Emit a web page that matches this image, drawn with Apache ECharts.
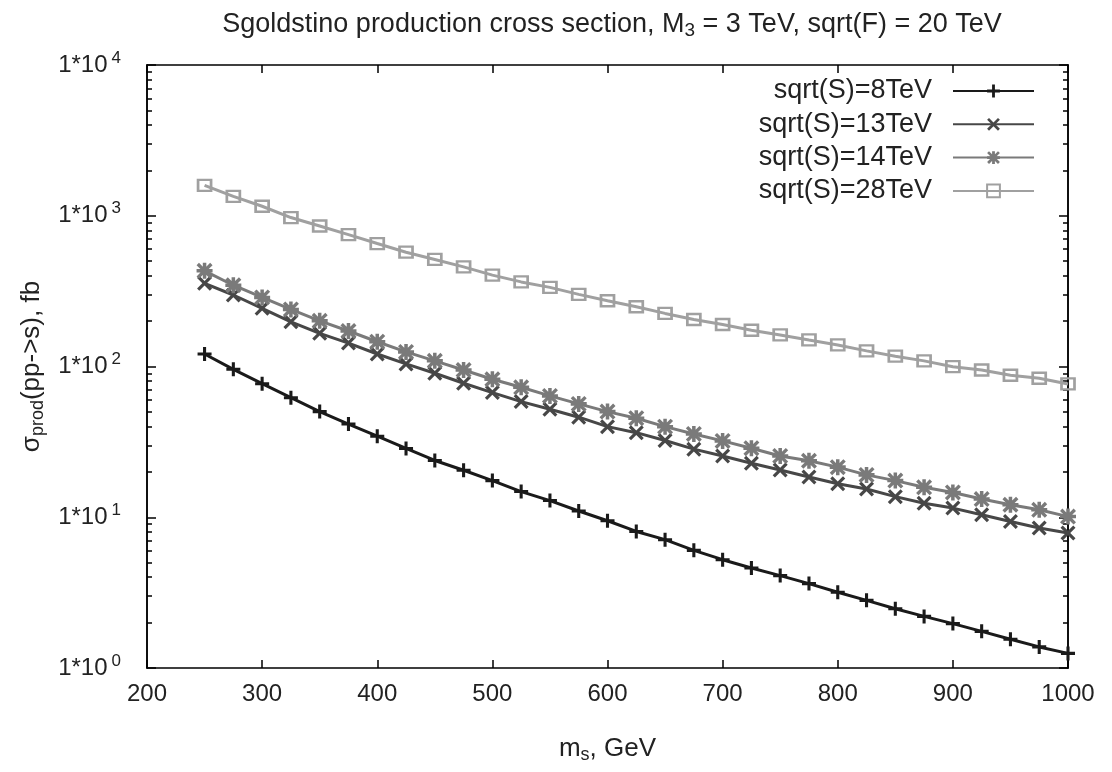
<!DOCTYPE html>
<html><head><meta charset="utf-8">
<script src="https://cdn.jsdelivr.net/npm/echarts@6/dist/echarts.min.js"></script>
<style>html,body{margin:0;padding:0;background:#fff}#c{width:1112px;height:772px}</style>
</head><body><div id="c"></div>
<script>
// ---- data ----
const massGeV = [250,275,300,325,350,375,400,425,450,475,500,525,550,575,600,625,650,675,700,725,750,775,800,825,850,875,900,925,950,975,1000];
const sigma8TeV  = [121,95.8,76.9,62.1,50.2,41.5,34.5,28.6,23.8,20.5,17.5,14.8,12.9,11.0,9.48,8.05,7.10,6.03,5.23,4.61,4.10,3.63,3.18,2.81,2.47,2.20,1.97,1.75,1.55,1.38,1.25];
const sigma13TeV = [356,298,243,198,166,143,121,104,90.2,77.4,67.1,58.5,52.1,46.1,39.9,36.4,32.3,28.3,25.5,22.8,20.6,18.5,16.7,15.4,13.7,12.4,11.5,10.4,9.38,8.48,7.85];
const sigma14TeV = [431,346,287,239,201,172,146,125,109,94.8,82.3,72.8,63.8,56.5,50.2,45.4,39.9,35.7,32.1,28.7,25.5,23.7,21.5,19.1,17.5,15.8,14.6,13.2,12.1,11.2,10.1];
const sigma28TeV = [1592,1346,1156,973,855,750,654,573,513,458,404,364,335,301,273,249,225,205,190,174,162,150,139,127,117,109,99.7,94.8,87.5,83.6,76.6];
const seriesNames = ['sqrt(S)=8TeV','sqrt(S)=13TeV','sqrt(S)=14TeV','sqrt(S)=28TeV'];
const xTickLabels = [200,300,400,500,600,700,800,900,1000];
const yMajorTicks = [1,10,100,1000,10000];
const yMinorTicks = [2,3,4,5,6,7,8,9,20,30,40,50,60,70,80,90,200,300,400,500,600,700,800,900,2000,3000,4000,5000,6000,7000,8000,9000];
const titleText = 'Sgoldstino production cross section, M{sub|3} = 3 TeV, sqrt(F) = 20 TeV';
const xName = 'm{sub|s}, GeV';
const yName = '\u03c3{sub|prod}(pp->s), fb';

// ---- styling ----
const FONT = 'Liberation Sans';
const TXT = '#222';
const plusP = 'M-0.22,-1L0.22,-1L0.22,-0.22L1,-0.22L1,0.22L0.22,0.22L0.22,1L-0.22,1L-0.22,0.22L-1,0.22L-1,-0.22L-0.22,-0.22Z';
const crossP = 'M0,-0.3L0.7,-1L1,-0.7L0.3,0L1,0.7L0.7,1L0,0.3L-0.7,1L-1,0.7L-0.3,0L-1,-0.7L-0.7,-1Z';
const symPlus = 'path://' + plusP;
const symCross = 'path://' + crossP;
const symStar = 'path://' + plusP + crossP;

function pairs(ys){ return massGeV.map((x,i)=>[x, ys[i]]); }

const seriesDefs = [
  {data: sigma8TeV,  color:'#1a1a1a', symbol: symPlus,  size: 14, fill:'#1a1a1a', border:0},
  {data: sigma13TeV, color:'#474747', symbol: symCross, size: 15, fill:'#474747', border:0},
  {data: sigma14TeV, color:'#7a7a7a', symbol: symStar,  size: 16, fill:'#7a7a7a', border:0},
  {data: sigma28TeV, color:'#a0a0a0', symbol: 'rect',   size: [13,11], fill:'rgba(255,255,255,0)', border:2.5}
];

const axisLineStyle = {color:'#000', width:1.5};
const baseLog = {type:'log', logBase:10, min:1, max:10000, splitLine:{show:false}, axisLine:{show:true, lineStyle:axisLineStyle}};

const option = {
  animation:false,
  backgroundColor:'#fff',
  textStyle:{fontFamily:FONT},
  title:{
    text: titleText, left: 607, top: 4, textAlign:'center',
    textStyle:{fontFamily:FONT, fontSize:27, fontWeight:'normal', color:TXT,
      rich:{sub:{fontFamily:FONT, fontSize:19, color:TXT, padding:[12,0,0,0]}}}
  },
  legend:{
    orient:'vertical', right:77, top:76, padding:0, align:'right',
    itemWidth:81, itemHeight:16, itemGap:3.3,
    textStyle:{fontFamily:FONT, fontSize:27, color:TXT, lineHeight:30, padding:[0,16,0,0]},
    data: seriesNames
  },
  grid:{left:147, right:44, top:65, bottom:104, containLabel:false},
  xAxis:[
    {type:'value', position:'bottom', min:200, max:1000, interval:100,
     name: xName, nameLocation:'middle', nameGap:66,
     nameTextStyle:{fontFamily:FONT, fontSize:26, color:TXT, rich:{sub:{fontFamily:FONT, fontSize:18, color:TXT, padding:[12,0,0,0]}}},
     axisLine:{show:true, lineStyle:axisLineStyle},
     axisTick:{show:true, inside:true, length:8, lineStyle:axisLineStyle},
     axisLabel:{fontFamily:FONT, fontSize:24, color:TXT, margin:14,
       customValues: xTickLabels, formatter:(v)=>String(v)},
     splitLine:{show:false}},
    {type:'value', position:'top', min:200, max:1000, interval:100,
     axisLine:{show:true, lineStyle:axisLineStyle},
     axisTick:{show:true, inside:true, length:8, lineStyle:axisLineStyle},
     axisLabel:{show:false}, splitLine:{show:false}}
  ],
  yAxis:[
    Object.assign({}, baseLog, {position:'left',
      name: yName, nameLocation:'middle', nameGap:100, nameRotate:90,
      nameTextStyle:{fontFamily:FONT, fontSize:26, color:TXT, rich:{sub:{fontFamily:FONT, fontSize:18, color:TXT, padding:[12,0,0,0]}}},
      axisTick:{show:true, inside:true, length:9, lineStyle:axisLineStyle, customValues:yMajorTicks},
      axisLabel:{fontFamily:FONT, fontSize:24, color:TXT, margin:26, customValues:yMajorTicks,
        formatter:(v)=>'1*10{sup|' + Math.round(Math.log10(v)) + '}',
        rich:{sup:{fontFamily:FONT, fontSize:17, color:TXT, padding:[0,0,14,4]}}}}),
    Object.assign({}, baseLog, {position:'left',
      axisTick:{show:true, inside:true, length:5, lineStyle:axisLineStyle, customValues:yMinorTicks},
      axisLabel:{show:false}}),
    Object.assign({}, baseLog, {position:'right',
      axisTick:{show:true, inside:true, length:9, lineStyle:axisLineStyle, customValues:yMajorTicks},
      axisLabel:{show:false}}),
    Object.assign({}, baseLog, {position:'right',
      axisTick:{show:true, inside:true, length:5, lineStyle:axisLineStyle, customValues:yMinorTicks},
      axisLabel:{show:false}})
  ],
  series: seriesDefs.map((d,i)=>({
    name: seriesNames[i], type:'line', xAxisIndex:0, yAxisIndex:0,
    data: pairs(d.data), clip:false,
    symbol: d.symbol, symbolSize: d.size, showSymbol:true,
    lineStyle:{color:d.color, width:3},
    itemStyle:{color:d.fill, borderColor:d.color, borderWidth:d.border, opacity:1},
    emphasis:{disabled:true}, z: 2+i
  }))
};

const chart = echarts.init(document.getElementById('c'), null, {renderer:'canvas'});
chart.setOption(option);
</script>
</body></html>
